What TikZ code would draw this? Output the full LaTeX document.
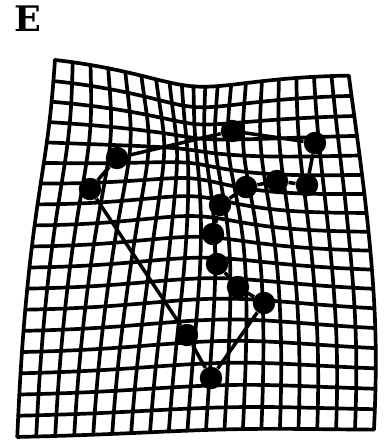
\documentclass[tikz,border=0pt]{standalone}
\usepackage{tikz}
\usepackage{fontspec}
\newfontfamily\panelfont{DejaVu Serif}

\tikzset{
  declare function={
    bx(\p,\q)=(1-\q)*(0.505+3.025*\p)+\q*(0.17+3.58*\p)+(0.15*\p-0.06*(1-\p))*sin(180*\q);
    by(\p,\q)=(1-\p)*(0.572+3.80*\q)+\p*(0.72+3.59*\q);
    ea(\p,\q)=exp(-((\p-1.88)^2+(\q-1.32)^2)/0.9025);
    eb(\p,\q)=exp(-((\p-2.35)^2+(\q-2.4)^2)/1.69);
    wx(\p,\q)=\p-0.42*(\p-1.88)*ea(\p,\q)-0.2*(\p-2.35)*eb(\p,\q);
    wy(\p,\q)=\q-0.42*(\q-1.32)*ea(\p,\q)-0.2*(\q-2.4)*eb(\p,\q);
    gx(\p,\q)=wx(bx(\p,\q),by(\p,\q));
    gy(\p,\q)=wy(bx(\p,\q),by(\p,\q));
  },
  gridline/.style={line width=2.1pt, line join=round, line cap=round},
  landmark/.style={circle, fill=black, inner sep=0pt, minimum size=0.45cm},
  outline/.style={line width=2pt},
}

\begin{document}
\begin{tikzpicture}[x=2cm, y=-2cm]
\useasboundingbox (0,0) rectangle (3.9,4.41);

% panel letter
\node[font=\panelfont\fontsize{20}{20}\selectfont\bfseries] (panel) at (0.275,0.19) {E};

% warped grid, columns
\foreach \i in {0,...,19}{
  \pgfmathsetmacro{\u}{\i/19}
  \draw[gridline] plot[variable=\t, domain=0:1, samples=40] ({gx(\u,\t)},{gy(\u,\t)});
}
% warped grid, rows
\foreach \j in {0,...,18}{
  \pgfmathsetmacro{\v}{\j/18}
  \draw[gridline] plot[variable=\t, domain=0:1, samples=40] ({gx(\t,\v)},{gy(\t,\v)});
}

% landmarks
\node[landmark] (lm1)  at (2.32,1.31) {};
\node[landmark] (lm2)  at (3.15,1.43) {};
\node[landmark] (lm3)  at (3.07,1.85) {};
\node[landmark] (lm4)  at (2.77,1.81) {};
\node[landmark] (lm5)  at (2.46,1.87) {};
\node[landmark] (lm6)  at (2.20,2.05) {};
\node[landmark] (lm7)  at (2.13,2.34) {};
\node[landmark] (lm8)  at (2.17,2.64) {};
\node[landmark] (lm9)  at (2.38,2.87) {};
\node[landmark] (lm10) at (2.64,3.03) {};
\node[landmark] (lm11) at (1.87,3.35) {};
\node[landmark] (lm12) at (2.11,3.78) {};
\node[landmark] (lm13) at (0.90,1.89) {};
\node[landmark] (lm14) at (1.17,1.58) {};

% outline through the landmarks
\draw[outline] (lm14) -- (lm1) -- (lm2) -- (lm3) -- (lm4) -- (lm5) -- (lm6)
  -- (lm7) -- (lm8) -- (lm9) -- (lm10) -- (lm12) -- (lm11) -- (lm13) -- (lm14);

\end{tikzpicture}
\end{document}
